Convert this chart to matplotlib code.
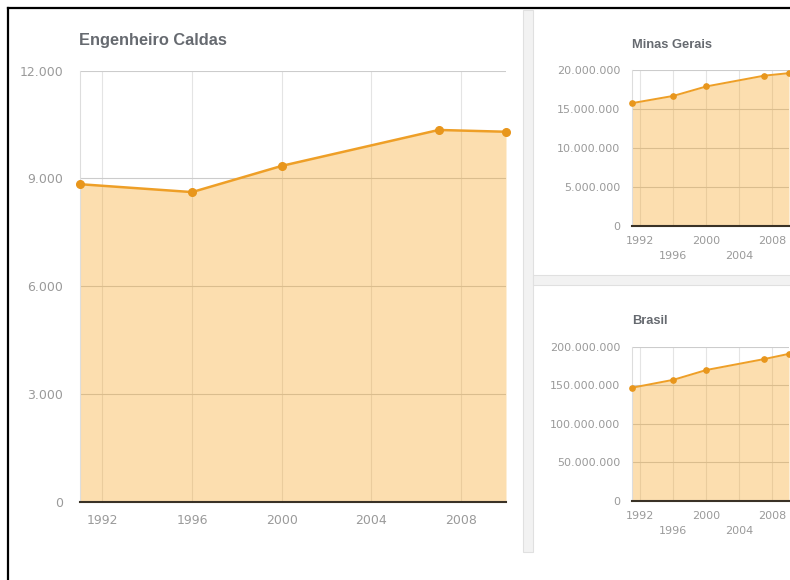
import matplotlib
matplotlib.use("Agg")
import matplotlib.pyplot as plt
from matplotlib.patches import Rectangle
from matplotlib.lines import Line2D
from matplotlib.ticker import FuncFormatter

# ---------------- data ----------------
years = [1991, 1996, 2000, 2007, 2010]
caldas = [8840, 8620, 9350, 10350, 10300]
minas = [15743152, 16672613, 17891494, 19273506, 19597330]
brasil = [146825475, 157070163, 169799170, 183987291, 190755799]

main_title = "Engenheiro Caldas"
minas_title = "Minas Gerais"
brasil_title = "Brasil"

main_yticks = [0, 3000, 6000, 9000, 12000]
minas_yticks = [0, 5000000, 10000000, 15000000, 20000000]
brasil_yticks = [0, 50000000, 100000000, 150000000, 200000000]
xticks = [1992, 1996, 2000, 2004, 2008]
main_xlabels = ["1992", "1996", "2000", "2004", "2008"]
small_xlabels = ["1992", "\n1996", "2000", "\n2004", "2008"]

# ---------------- style ----------------
W, H = 790, 580
LINE = "#EE9F27"
MARK = "#E8961C"
FILL = "#F7A21B"
TICKC = "#9a9a9a"
TITLEC = "#666a70"

fig = plt.figure(figsize=(W / 100, H / 100), dpi=100)
fig.patch.set_facecolor("white")


def rect(l, t, r, b):
    return [l / W, 1 - b / H, (r - l) / W, (b - t) / H]


def fmt(v, pos=None):
    return f"{int(round(v)):,}".replace(",", ".")


def draw(ax, vals, yticks, xlabels, lw, ms, tsize, ypad, xpad, small):
    ax.set_xlim(1991, 2010)
    ax.set_ylim(yticks[0], yticks[-1])
    ax.set_yticks(yticks)
    ax.yaxis.set_major_formatter(FuncFormatter(fmt))
    ax.set_xticks(xticks)
    ax.set_xticklabels(xlabels)
    for s in ["top", "right"]:
        ax.spines[s].set_visible(False)
    ax.spines["left"].set_color("#dddddd")
    ax.spines["left"].set_linewidth(0.8)
    ax.spines["bottom"].set_color("#3a3226")
    ax.spines["bottom"].set_linewidth(1.5)
    ax.spines["bottom"].set_zorder(6)
    ax.set_axisbelow(True)
    ax.grid(axis="y", color="#cccccc", linewidth=0.8)
    ax.grid(axis="x", color="#e4e4e4", linewidth=0.8)
    ax.tick_params(axis="both", length=0, labelsize=tsize, labelcolor=TICKC)
    ax.tick_params(axis="y", pad=ypad)
    ax.tick_params(axis="x", pad=xpad)
    for lab in ax.get_xticklabels() + ax.get_yticklabels():
        lab.set_fontfamily("DejaVu Sans")
    if small:
        for lab in ax.get_xticklabels():
            lab.set_linespacing(1.55)
    ax.fill_between(years, vals, 0, color=FILL, alpha=0.35, lw=0, zorder=2)
    ax.plot(years, vals, color=LINE, lw=lw, zorder=4, clip_on=False,
            marker="o", ms=ms, mfc=MARK, mec=MARK)
    ax.patch.set_alpha(0)


# main chart
ax1 = fig.add_axes(rect(80, 70.7, 506, 501.7))
draw(ax1, caldas, main_yticks, main_xlabels, 1.8, 5.5, 9, 12, 9, False)
fig.text(79 / W, 1 - 40 / H, main_title, fontsize=11.8, fontweight="bold",
         family="Liberation Sans", color=TITLEC, va="center", ha="left")

# Minas Gerais
ax2 = fig.add_axes(rect(632, 70, 789, 225.7))
draw(ax2, minas, minas_yticks, small_xlabels, 1.4, 3.8, 8, 8.5, 7.5, True)
fig.text(632 / W, 1 - 45 / H, minas_title, fontsize=9.3, fontweight="bold",
         family="Liberation Sans", color=TITLEC, va="center", ha="left")

# Brasil
ax3 = fig.add_axes(rect(632, 346.7, 789, 501))
draw(ax3, brasil, brasil_yticks, small_xlabels, 1.4, 3.8, 8, 8.5, 7.5, True)
fig.text(632 / W, 1 - 321 / H, brasil_title, fontsize=9.3, fontweight="bold",
         family="Liberation Sans", color=TITLEC, va="center", ha="left")

# panel separators
fig.patches.append(Rectangle((523 / W, 1 - 552 / H), 10 / W, 542 / H,
                             transform=fig.transFigure, facecolor="#f2f2f2",
                             edgecolor="#e0e0e0", lw=0.8, zorder=0))
fig.patches.append(Rectangle((533 / W, 1 - 285 / H), 260 / W, 10 / H,
                             transform=fig.transFigure, facecolor="#f2f2f2",
                             edgecolor="#e0e0e0", lw=0.8, zorder=0))

# black frame (left and top)
fig.lines.append(Line2D([8 / W, 8 / W], [0, 1 - 8 / H], transform=fig.transFigure,
                        color="black", lw=1.6))
fig.lines.append(Line2D([8 / W, 1], [1 - 8 / H, 1 - 8 / H], transform=fig.transFigure,
                        color="black", lw=1.6))

fig.savefig("out.png", dpi=100)
